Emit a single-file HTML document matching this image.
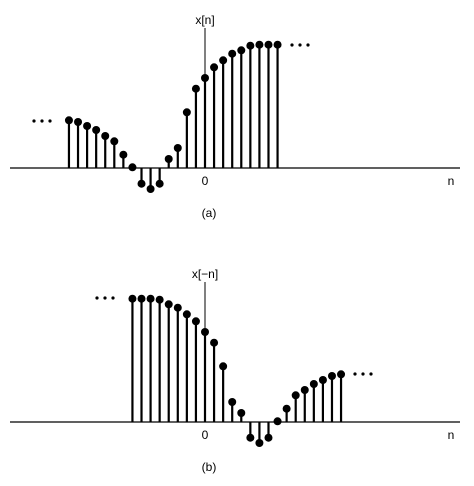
<!DOCTYPE html>
<html><head><meta charset="utf-8"><style>
html,body{margin:0;padding:0;background:#fff;}
svg{display:block;font-family:"Liberation Sans",sans-serif;}
</style></head><body>
<svg id="c" width="474" height="486" viewBox="0 0 474 486"></svg>
<script>
const nValuesA = [-15,-14,-13,-12,-11,-10,-9,-8,-7,-6,-5,-4,-3,-2,-1,0,1,2,3,4,5,6,7,8];
const xValues = [47.7,46,42,38,32,26.7,13.3,0.7,-15.7,-21,-15.7,9,20,55.7,79.3,90,100.7,107.7,114.3,117.7,122.3,123.3,123.3,123.3];
const panelLabels = ["x[n]","x[\u2212n]"];
const captions = ["(a)","(b)"];
const NS="http://www.w3.org/2000/svg";
const svg=document.getElementById('c');
function el(t,a,p){const e=document.createElementNS(NS,t);for(const k in a)e.setAttribute(k,a[k]);(p||svg).appendChild(e);return e;}
const dx=9.07, x0=205;
function xs(n){return x0+n*dx;}
function panel(axisY, flip, idx, dotsLeft, dotsRight){
  const g=el('g',{});
  
  
  const ax=el('line',{x1:10,x2:460,y1:axisY,y2:axisY,stroke:'#000','stroke-width':1.3},g);
  
  const vy=el('line',{x1:x0,x2:x0,y1:axisY-140,y2:axisY,stroke:'#000','stroke-width':1},g);
  
  const lab=el('text',{x:x0,y:axisY-144,'font-size':12,'text-anchor':'middle'},g);lab.textContent=panelLabels[idx];
  
  const z=el('text',{x:x0,y:axisY+17,'font-size':12,'text-anchor':'middle'},g);z.textContent='0';
  
  const nl=el('text',{x:451,y:axisY+17,'font-size':12,'text-anchor':'middle'},g);nl.textContent='n';
  
  const cap=el('text',{x:209,y:axisY+49,'font-size':12,'text-anchor':'middle'},g);cap.textContent=captions[idx];
  
  for(let i=0;i<nValuesA.length;i++){
    const n=flip?-nValuesA[i]:nValuesA[i];
    const x=xs(n), y=axisY-xValues[i];
    const s=el('line',{x1:x,x2:x,y1:axisY,y2:y,stroke:'#000','stroke-width':2.2},g);
    
    const c=el('circle',{cx:x,cy:y,r:4,fill:'#000'},g);
    
  }
  [[dotsLeft[0],dotsLeft[1]],[dotsRight[0],dotsRight[1]]].forEach(([sx,sy])=>{
    for(let k=0;k<3;k++){const d=el('circle',{cx:sx+k*8,cy:sy,r:1.6,fill:'#000'},g);
      }
  });
}
panel(168,false,0,[34,121],[292,45]);
panel(422,true,1,[97,298],[355,374]);
</script>
</body></html>
